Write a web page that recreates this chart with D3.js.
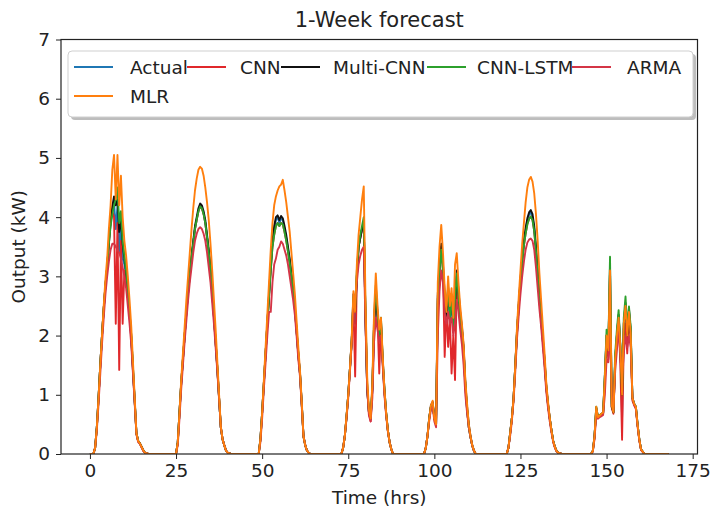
<!DOCTYPE html>
<html><head><meta charset="utf-8">
<script src="https://cdn.jsdelivr.net/npm/d3@7"></script>
<style>body{margin:0;background:#fff}svg{display:block}</style>
</head><body>
<svg id="chart" width="711" height="513"></svg>
<script>
// ---- data ----
const dayOffsets = [0, 24, 48, 72, 96, 120, 144];
const dayHours = [0, 1, 1.5, 2, 2.5, 3, 3.5, 4, 4.5, 5, 5.5, 6, 6.5, 7, 7.5, 8, 8.5, 9, 9.5, 10, 10.5, 11, 11.5, 12, 12.5, 13, 13.5, 14, 14.5, 15, 15.5, 16, 17];
const endHour = 168;
const endValue = 0;
const xTicks = [0, 25, 50, 75, 100, 125, 150, 175];
const yTicks = [0, 1, 2, 3, 4, 5, 6, 7];
const seriesNames = ["Actual", "CNN", "Multi-CNN", "CNN-LSTM", "ARMA", "MLR"];

const actual = [
  [0,0,0.1,0.45,0.95,1.5,2.0,2.45,2.85,3.15,3.55,3.9,4.1,4.25,3.8,4.2,3.4,3.9,3.3,3.2,3.0,2.7,2.35,1.95,1.4,0.88,0.35,0.22,0.18,0.12,0.06,0.02,0],
  [0,0,0.2,0.7,1.2,1.6,2.0,2.38,2.72,3.02,3.3,3.56,3.8,3.96,4.1,4.2,4.16,4.06,3.9,3.66,3.4,3.1,2.72,2.32,1.88,1.43,0.94,0.45,0.25,0.15,0.06,0.02,0],
  [0,0,0.25,0.7,1.2,1.7,2.2,2.68,3.15,3.55,3.8,3.95,4.0,3.9,3.98,3.95,3.8,3.65,3.46,3.26,3.02,2.78,2.47,2.08,1.69,1.35,0.85,0.3,0.15,0.06,0.02,0,0],
  [0,0,0.1,0.3,0.62,1.0,1.45,1.9,2.6,2.2,3.0,3.5,3.65,3.8,3.9,2.3,1.1,0.7,0.58,1.1,2.2,2.7,2.3,1.9,2.2,1.55,1.05,0.68,0.4,0.2,0.08,0,0],
  [0,0,0.1,0.3,0.6,0.8,0.86,0.6,0.5,2.65,3.15,3.5,3.15,2.4,2.4,2.7,2.3,2.5,2.1,2.4,3.0,2.7,2.3,2.1,1.75,1.15,0.75,0.45,0.28,0.14,0.05,0,0],
  [0,0,0.1,0.35,0.6,0.95,1.5,2.05,2.5,2.92,3.28,3.56,3.78,3.94,4.04,4.08,4.0,3.8,3.46,3.06,2.62,2.28,1.92,1.58,1.13,0.84,0.6,0.4,0.22,0.12,0.05,0.02,0],
  [0,0,0,0.05,0.3,0.78,0.62,0.65,0.67,0.69,1.3,2.0,1.75,3.1,0.8,0.7,1.6,2.0,2.35,1.8,0.6,2.1,2.5,2.0,2.4,2.05,0.95,0.85,0.8,0.5,0.25,0.08,0]
];
const cnn = [
  [0,0,0.1,0.45,0.95,1.5,2.0,2.45,2.85,3.15,3.55,3.9,4.1,4.0,2.2,3.9,1.42,3.6,2.2,3.1,2.9,2.7,2.35,1.95,1.4,0.88,0.35,0.22,0.18,0.12,0.06,0.02,0],
  [0,0,0.2,0.7,1.2,1.6,2.0,2.38,2.72,3.0,3.3,3.55,3.8,3.95,4.1,4.18,4.15,4.05,3.9,3.65,3.4,3.1,2.72,2.32,1.88,1.43,0.94,0.45,0.25,0.15,0.06,0.02,0],
  [0,0,0.25,0.7,1.2,1.7,2.2,2.65,3.1,3.5,3.7,3.85,3.9,3.85,3.9,3.88,3.75,3.6,3.42,3.22,3.0,2.75,2.45,2.07,1.68,1.34,0.84,0.3,0.15,0.06,0.02,0,0],
  [0,0,0.1,0.3,0.62,1.0,1.45,1.9,2.6,1.31,3.0,3.5,3.65,3.8,3.9,2.3,1.1,0.7,0.55,1.1,2.2,2.7,2.3,1.36,2.2,1.55,1.05,0.68,0.4,0.2,0.08,0,0],
  [0,0,0.1,0.3,0.6,0.8,0.85,0.6,0.5,2.6,3.1,3.5,3.1,1.64,2.5,1.81,2.3,1.36,2.0,1.25,2.9,2.6,2.3,2.1,1.75,1.15,0.75,0.45,0.28,0.14,0.05,0,0],
  [0,0,0.1,0.35,0.6,0.95,1.5,2.05,2.5,2.9,3.25,3.52,3.72,3.88,3.97,4.01,3.95,3.76,3.42,3.03,2.6,2.25,1.9,1.55,1.12,0.83,0.6,0.4,0.22,0.12,0.05,0.02,0],
  [0,0,0,0.05,0.28,0.75,0.6,0.64,0.66,0.68,1.2,1.9,1.6,2.5,0.78,0.68,1.55,1.9,2.3,1.5,0.24,1.93,2.2,1.7,2.3,1.95,0.9,0.83,0.78,0.48,0.24,0.07,0]
];
const multiCnn = [
  [0,0,0.1,0.45,0.95,1.5,2.0,2.45,2.85,3.15,3.6,3.95,4.18,4.35,4.2,4.3,3.75,3.95,3.55,3.3,3.1,2.75,2.4,2.0,1.45,0.9,0.35,0.22,0.18,0.12,0.06,0.02,0],
  [0,0,0.2,0.7,1.2,1.6,2.0,2.4,2.75,3.05,3.35,3.6,3.85,4.0,4.15,4.23,4.2,4.1,3.95,3.7,3.45,3.15,2.75,2.35,1.9,1.45,0.95,0.45,0.25,0.15,0.06,0.02,0],
  [0,0,0.25,0.7,1.2,1.7,2.2,2.7,3.2,3.6,3.85,4.0,4.03,3.95,4.02,3.98,3.85,3.7,3.5,3.3,3.05,2.8,2.49,2.1,1.7,1.36,0.85,0.3,0.15,0.06,0.02,0,0],
  [0,0,0.1,0.3,0.63,1.0,1.45,1.93,2.7,2.4,3.0,3.5,3.65,3.8,3.9,2.3,1.1,0.7,0.6,1.1,2.2,2.75,2.35,2.0,2.26,1.6,1.1,0.7,0.4,0.2,0.08,0,0],
  [0,0,0.1,0.3,0.6,0.82,0.88,0.6,0.5,2.7,3.2,3.55,3.2,2.7,2.3,2.8,2.4,2.6,2.2,2.5,3.1,2.77,2.4,2.15,1.8,1.2,0.8,0.5,0.3,0.15,0.06,0,0],
  [0,0,0.1,0.35,0.6,0.95,1.5,2.1,2.55,2.95,3.3,3.6,3.82,3.98,4.08,4.12,4.05,3.85,3.5,3.1,2.65,2.3,1.95,1.6,1.15,0.85,0.6,0.4,0.22,0.12,0.05,0.02,0],
  [0,0,0,0.05,0.3,0.78,0.62,0.65,0.67,0.69,1.3,2.0,1.75,3.2,0.8,0.7,1.6,2.0,2.35,1.8,1.0,2.2,2.55,2.0,2.45,2.1,0.95,0.85,0.8,0.5,0.25,0.08,0]
];
const cnnLstm = [
  [0,0,0.1,0.45,0.95,1.5,2.0,2.45,2.85,3.15,3.55,3.85,4.05,4.2,4.3,4.5,3.9,4.1,3.6,3.35,3.1,2.75,2.4,2.0,1.45,0.9,0.35,0.22,0.18,0.12,0.06,0.02,0],
  [0,0,0.2,0.7,1.2,1.6,2.0,2.4,2.72,3.02,3.32,3.56,3.8,3.96,4.1,4.18,4.15,4.05,3.9,3.66,3.4,3.1,2.72,2.32,1.88,1.43,0.94,0.45,0.25,0.15,0.06,0.02,0],
  [0,0,0.25,0.7,1.2,1.7,2.2,2.65,3.1,3.5,3.7,3.85,3.9,3.85,3.9,3.88,3.75,3.6,3.42,3.22,3.0,2.75,2.45,2.07,1.68,1.34,0.84,0.3,0.15,0.06,0.02,0,0],
  [0,0,0.1,0.3,0.63,1.0,1.45,1.9,2.65,2.5,3.1,3.5,3.7,3.85,4.0,2.4,1.15,0.72,0.6,1.15,2.3,2.85,2.4,2.0,2.3,1.6,1.1,0.7,0.4,0.2,0.08,0,0],
  [0,0,0.1,0.3,0.6,0.8,0.85,0.6,0.5,2.6,3.1,3.45,3.1,2.6,2.5,2.82,2.3,2.7,2.1,2.6,3.05,2.7,2.3,2.1,1.75,1.15,0.75,0.45,0.28,0.14,0.05,0,0],
  [0,0,0.1,0.35,0.6,0.95,1.5,2.05,2.5,2.9,3.25,3.52,3.72,3.88,3.97,4.01,3.95,3.76,3.42,3.03,2.6,2.25,1.9,1.55,1.12,0.83,0.6,0.4,0.22,0.12,0.05,0.02,0],
  [0,0,0,0.05,0.3,0.8,0.62,0.65,0.68,0.7,1.35,2.1,1.8,3.33,0.85,0.72,1.7,2.1,2.43,1.85,1.05,2.3,2.66,2.1,2.49,2.15,0.95,0.85,0.8,0.5,0.25,0.08,0]
];
const arma = [
  [0,0,0.1,0.4,0.85,1.35,1.85,2.3,2.7,3.0,3.25,3.45,3.55,3.55,3.5,3.45,3.4,3.3,3.15,3.0,2.8,2.5,2.2,1.85,1.35,0.85,0.33,0.2,0.17,0.11,0.05,0.02,0],
  [0,0,0.15,0.6,1.1,1.5,1.9,2.25,2.6,2.9,3.15,3.4,3.6,3.72,3.8,3.83,3.8,3.72,3.6,3.4,3.15,2.9,2.55,2.2,1.8,1.38,0.92,0.45,0.25,0.15,0.06,0.02,0],
  [0,0,0.2,0.6,1.1,1.55,2.0,2.4,2.4,2.9,3.2,3.3,3.45,3.5,3.59,3.55,3.45,3.35,3.2,3.0,2.8,2.6,2.35,2.0,1.6,1.3,0.8,0.3,0.15,0.06,0.02,0,0],
  [0,0,0.1,0.3,0.6,0.95,1.4,1.85,2.3,2.6,2.9,3.2,3.35,3.45,3.5,2.2,1.1,0.65,0.55,0.95,1.9,2.3,2.1,1.9,2.0,1.5,1.0,0.65,0.38,0.2,0.08,0,0],
  [0,0,0.1,0.3,0.55,0.75,0.8,0.55,0.45,2.0,2.75,3.1,2.9,2.4,2.2,2.4,2.2,2.3,2.0,2.2,2.6,2.4,2.1,1.85,1.5,1.0,0.7,0.45,0.28,0.14,0.05,0,0],
  [0,0,0.1,0.3,0.55,0.9,1.4,1.95,2.35,2.7,3.0,3.25,3.45,3.57,3.62,3.64,3.6,3.45,3.15,2.8,2.45,2.15,1.8,1.45,1.05,0.78,0.55,0.36,0.2,0.1,0.04,0.02,0],
  [0,0,0,0.04,0.25,0.65,0.6,0.62,0.64,0.66,1.0,1.6,1.55,2.1,1.0,0.75,1.4,1.75,2.1,1.7,1.3,1.7,2.0,1.8,2.0,1.8,0.95,0.82,0.76,0.47,0.23,0.07,0]
];
const mlr = [
  [0,0,0.1,0.45,0.95,1.5,2.0,2.5,2.95,3.3,3.8,4.2,4.8,5.05,4.3,5.05,4.2,4.7,4.0,3.6,3.35,3.0,2.6,2.15,1.55,0.95,0.35,0.22,0.18,0.12,0.06,0.02,0],
  [0,0,0.2,0.7,1.25,1.7,2.15,2.6,3.0,3.4,3.8,4.15,4.45,4.65,4.8,4.85,4.82,4.7,4.5,4.25,3.95,3.55,3.1,2.6,2.1,1.55,1.0,0.47,0.25,0.15,0.06,0.02,0],
  [0,0,0.25,0.7,1.25,1.8,2.35,2.9,3.45,3.9,4.2,4.35,4.45,4.52,4.55,4.63,4.45,4.25,4.0,3.75,3.4,3.05,2.7,2.25,1.8,1.4,0.88,0.3,0.15,0.06,0.02,0,0],
  [0,0,0.1,0.3,0.65,1.0,1.45,1.95,2.75,2.4,3.2,3.7,4.0,4.3,4.52,2.6,1.3,0.75,0.6,1.2,2.4,3.05,2.5,2.1,2.3,1.65,1.1,0.7,0.4,0.2,0.08,0,0],
  [0,0,0.1,0.3,0.6,0.82,0.9,0.6,0.5,2.9,3.5,3.87,3.4,2.8,2.4,3.0,2.5,2.8,2.3,3.2,3.39,2.9,2.5,2.2,1.85,1.25,0.85,0.5,0.3,0.15,0.06,0,0],
  [0,0,0.1,0.35,0.6,0.95,1.5,2.15,2.65,3.1,3.55,3.9,4.25,4.5,4.63,4.68,4.6,4.4,4.05,3.6,3.05,2.6,2.15,1.7,1.2,0.88,0.62,0.4,0.22,0.12,0.05,0.02,0],
  [0,0,0,0.05,0.3,0.8,0.62,0.65,0.68,0.7,1.3,2.0,1.75,3.1,0.82,0.7,1.6,2.0,2.3,1.8,1.0,2.2,2.5,2.0,2.4,2.05,0.95,0.85,0.8,0.5,0.25,0.08,0]
];
const seriesData = [actual, cnn, multiCnn, cnnLstm, arma, mlr];

// ---- styles ----
const seriesColors = ["#1f77b4", "#e0282b", "#111111", "#2ca02c", "#d43546", "#ff7f0e"];
const FONT = "'DejaVu Sans', sans-serif";
const TXT = "#222";
const FS = "18.5px";

const svg = d3.select("#chart");
const W = 711, H = 513;
const L = 61, R = 697.5, T = 39.5, B = 454;

const x = d3.scaleLinear().domain([-8.4, 176.4]).range([L, R]);
const y = d3.scaleLinear().domain([0, 7]).range([B, T]);

function toPoints(days) {
  const pts = [];
  days.forEach((vals, d) => vals.forEach((v, i) => pts.push([dayOffsets[d] + dayHours[i], v])));
  pts.push([endHour, endValue]);
  return pts;
}

svg.append("rect").attr("width", W).attr("height", H).attr("fill", "#fff");

svg.append("defs").append("clipPath").attr("id", "clip")
  .append("rect").attr("x", L).attr("y", T).attr("width", R - L).attr("height", B - T);

const line = d3.line().x(d => x(d[0])).y(d => y(d[1]));
const g = svg.append("g").attr("clip-path", "url(#clip)");
seriesData.forEach((s, k) => {
  g.append("path").attr("d", line(toPoints(s)))
    .attr("fill", "none").attr("stroke", seriesColors[k])
    .attr("stroke-width", 1.9).attr("stroke-linejoin", "round");
});

// axes
const xAxis = svg.append("g").attr("transform", `translate(0,${B})`)
  .call(d3.axisBottom(x).tickValues(xTicks).tickFormat(d3.format("d")).tickSize(5).tickPadding(5));
const yAxis = svg.append("g").attr("transform", `translate(${L},0)`)
  .call(d3.axisLeft(y).tickValues(yTicks).tickFormat(d3.format("d")).tickSize(5).tickPadding(6));
[xAxis, yAxis].forEach(a => {
  a.select(".domain").remove();
  a.selectAll(".tick line").attr("stroke", TXT).attr("stroke-width", 1);
  a.selectAll(".tick text").attr("fill", TXT).style("font-family", FONT).style("font-size", FS);
});

svg.append("rect").attr("x", L).attr("y", T).attr("width", R - L).attr("height", B - T)
  .attr("fill", "none").attr("stroke", TXT).attr("stroke-width", 1.2);

// labels
svg.append("text").attr("x", (L + R) / 2).attr("y", 20).attr("text-anchor", "middle")
  .attr("dominant-baseline", "central").attr("fill", TXT)
  .style("font-family", FONT).style("font-size", "21px").text("1-Week forecast");
svg.append("text").attr("x", (L + R) / 2).attr("y", 497).attr("text-anchor", "middle")
  .attr("dominant-baseline", "central").attr("fill", TXT)
  .style("font-family", FONT).style("font-size", FS).text("Time (hrs)");
svg.append("text").attr("transform", `translate(18,${(T + B) / 2}) rotate(-90)`)
  .attr("text-anchor", "middle").attr("dominant-baseline", "central").attr("fill", TXT)
  .style("font-family", FONT).style("font-size", FS).text("Output (kW)");

// legend
const lg = svg.append("g");
const lx = 68, ly = 51, lw = 625, lh = 66;
lg.append("rect").attr("x", lx + 3).attr("y", ly + 3).attr("width", lw).attr("height", lh)
  .attr("rx", 4).attr("fill", "#bdbdbd");
lg.append("rect").attr("x", lx).attr("y", ly).attr("width", lw).attr("height", lh)
  .attr("rx", 4).attr("fill", "#fff").attr("stroke", "#cfcfcf").attr("stroke-width", 1);
const handleX = [74, 187, 281, 427, 572, 74];
const textX = [130, 240, 333, 477, 627, 130];
const rowY = [67, 67, 67, 67, 67, 96];
seriesNames.forEach((n, k) => {
  lg.append("line").attr("x1", handleX[k]).attr("x2", handleX[k] + 39)
    .attr("y1", rowY[k]).attr("y2", rowY[k])
    .attr("stroke", seriesColors[k]).attr("stroke-width", 1.9);
  lg.append("text").attr("x", textX[k]).attr("y", rowY[k]).attr("dominant-baseline", "central")
    .attr("fill", TXT).style("font-family", FONT).style("font-size", FS).text(n);
});
</script>
</body></html>
